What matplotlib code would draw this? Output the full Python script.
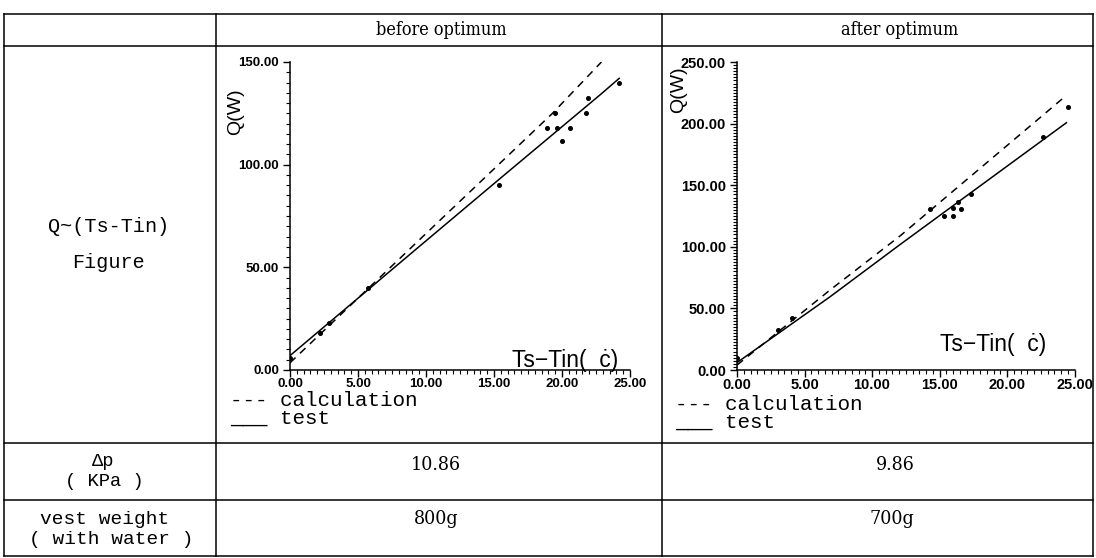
import numpy as np
import matplotlib.pyplot as plt
from matplotlib.lines import Line2D
from matplotlib.ticker import MultipleLocator, FormatStrFormatter

W = 1096
H = 558

# before optimum
BT_TEST = [0.0, 9.3, 15.4, 22.8, 24.2]
BQ_TEST = [7.0, 59.0, 93.0, 134.0, 142.0]
BT_CALC = [0.0, 19.3, 22.9]
BQ_CALC = [3.5, 125.0, 150.0]
BT_PTS = [0.0, 2.2, 2.9, 5.7, 15.4, 18.9, 19.5, 19.6, 20.0, 20.6, 21.8, 21.9, 24.2]
BQ_PTS = [6.0, 18.0, 22.8, 39.8, 90.3, 118.1, 125.4, 117.8, 111.3, 118.1, 125.4, 132.4, 140.0]

# after optimum
AT_TEST = [0.0, 6.9, 12.1, 24.4]
AQ_TEST = [6.0, 59.5, 102.0, 200.7]
AT_CALC = [0.0, 6.9, 12.1, 24.3]
AQ_CALC = [4.0, 65.0, 109.0, 222.0]
AT_PTS = [0.0, 3.0, 4.1, 14.3, 15.3, 16.0, 16.0, 16.4, 16.6, 17.3, 22.7, 24.5]
AQ_PTS = [10.0, 32.5, 42.0, 130.4, 125.0, 125.0, 131.2, 136.6, 130.6, 142.9, 189.4, 213.7]

DP = ['10.86', '9.86']
WEIGHT = ['800g', '700g']
HEADERS = ['before optimum', 'after optimum']

MONO = 'Liberation Mono'
SANS = 'Liberation Sans'
COND = dict(family='DejaVu Serif', fontstretch='condensed')


def fx(x):
    return x / W


def fy(y):
    return 1 - y / H


fig = plt.figure(figsize=(W / 100, H / 100), dpi=100)

# table grid
rows = [14, 46, 443, 500, 556]
cols = [4, 216, 662, 1093]
for y in rows:
    fig.add_artist(Line2D([fx(cols[0]), fx(cols[-1])], [fy(y), fy(y)],
                          transform=fig.transFigure, color='black', lw=1.1))
for x in cols:
    fig.add_artist(Line2D([fx(x), fx(x)], [fy(rows[0]), fy(rows[-1])],
                          transform=fig.transFigure, color='black', lw=1.1))

# header + left column text
fig.text(fx(441), fy(30), HEADERS[0], fontsize=13, ha='center', va='center', **COND)
fig.text(fx(900), fy(30), HEADERS[1], fontsize=13, ha='center', va='center', **COND)
fig.text(fx(109), fy(227), 'Q~(Ts-Tin)', family=MONO, fontsize=14.5, ha='center', va='center')
fig.text(fx(109), fy(262), 'Figure', family=MONO, fontsize=14.5, ha='center', va='center')
fig.text(fx(103), fy(461), '\u0394p', family=MONO, fontsize=13.5, ha='center', va='center')
fig.text(fx(104), fy(481), '( KPa )', family=MONO, fontsize=13.5, ha='center', va='center')
fig.text(fx(105), fy(519), 'vest weight', family=MONO, fontsize=14, ha='center', va='center')
fig.text(fx(111), fy(539), '( with water )', family=MONO, fontsize=14, ha='center', va='center')

fig.text(fx(436), fy(465), DP[0], fontsize=14, ha='center', va='center', **COND)
fig.text(fx(895), fy(465), DP[1], fontsize=14, ha='center', va='center', **COND)
fig.text(fx(436), fy(519), WEIGHT[0], fontsize=14, ha='center', va='center', **COND)
fig.text(fx(892), fy(519), WEIGHT[1], fontsize=14, ha='center', va='center', **COND)


def panel(rect, ymax, yminor, tsize, tt, tq, ct, cq, pt, pq):
    ax = fig.add_axes(rect)
    ax.patch.set_alpha(0)
    ax.plot(ct, cq, color='black', lw=1.1, ls=(0, (5, 4)))
    ax.plot(tt, tq, color='black', lw=1.1)
    ax.plot(pt, pq, 'o', color='black', ms=2.6)
    ax.set_xlim(0, 25)
    ax.set_ylim(0, ymax)
    for s in ['top', 'right']:
        ax.spines[s].set_visible(False)
    for s in ['left', 'bottom']:
        ax.spines[s].set_linewidth(1.1)
    ax.xaxis.set_major_locator(MultipleLocator(5))
    ax.xaxis.set_minor_locator(MultipleLocator(0.5))
    ax.yaxis.set_major_locator(MultipleLocator(50))
    ax.yaxis.set_minor_locator(MultipleLocator(yminor))
    ax.xaxis.set_major_formatter(FormatStrFormatter('%.2f'))
    ax.yaxis.set_major_formatter(FormatStrFormatter('%.2f'))
    ax.tick_params(which='major', direction='out', length=5, width=1, labelsize=tsize)
    ax.tick_params(which='minor', direction='out', length=3, width=0.8)
    ax.tick_params(axis='x', which='major', pad=0.5)
    ax.tick_params(axis='y', which='major', pad=3)
    for lab in ax.get_xticklabels() + ax.get_yticklabels():
        lab.set_family(SANS)
        lab.set_weight('bold')
    return ax


axb = panel([fx(290), fy(370), 340 / W, 308 / H], 150, 5, 9.5,
            BT_TEST, BQ_TEST, BT_CALC, BQ_CALC, BT_PTS, BQ_PTS)
axa = panel([fx(737), fy(370), 337.5 / W, 308 / H], 250, 2.5, 10.5,
            AT_TEST, AQ_TEST, AT_CALC, AQ_CALC, AT_PTS, AQ_PTS)

# axis titles
fig.text(fx(236), fy(112), 'Q(W)', family=SANS, fontsize=14, rotation=90, ha='center', va='center')
fig.text(fx(679), fy(90), 'Q(W)', family=SANS, fontsize=14, rotation=90, ha='center', va='center')
fig.text(fx(512), fy(367), 'Ts\u2212Tin(  \u010b)', family=SANS, fontsize=16.5, ha='left', va='baseline')
fig.text(fx(940), fy(351), 'Ts\u2212Tin(  \u010b)', family=SANS, fontsize=16.5, ha='left', va='baseline')

# legends
fig.text(fx(230), fy(400), '--- calculation', family=MONO, fontsize=15, ha='left', va='center')
fig.text(fx(230), fy(418), '___ test', family=MONO, fontsize=15, ha='left', va='center')
fig.text(fx(675), fy(404), '--- calculation', family=MONO, fontsize=15, ha='left', va='center')
fig.text(fx(675), fy(422), '___ test', family=MONO, fontsize=15, ha='left', va='center')

fig.savefig('out.png', dpi=100)
